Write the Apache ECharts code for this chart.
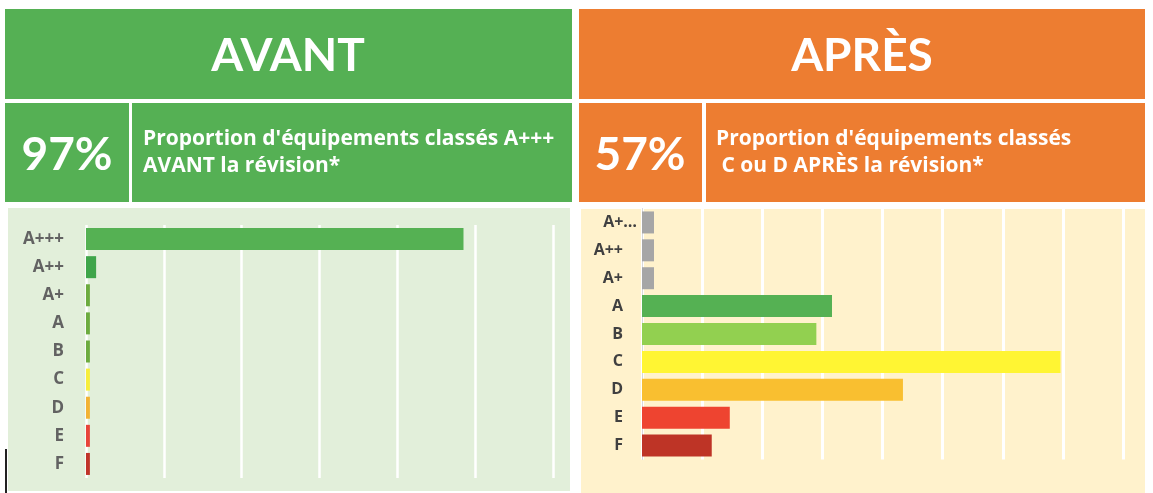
<!DOCTYPE html>
<html>
<head>
<meta charset="utf-8">
<script src="https://cdn.jsdelivr.net/npm/echarts@6/dist/echarts.min.js"></script>
<style>
  html, body { margin: 0; padding: 0; background: #fff; }
  #chart { width: 1153px; height: 493px; }
</style>
</head>
<body>
<div id="chart"></div>
<script>
// catégories et valeurs (en %)
const avantCats = ['A+++', 'A++', 'A+', 'A', 'B', 'C', 'D', 'E', 'F'];
const avantValues = [97, 2.6, 1, 1, 1, 1, 1, 1, 1];
const apresCats = ['A+…', 'A++', 'A+', 'A', 'B', 'C', 'D', 'E', 'F'];
const apresValues = [1, 1, 1, 15.8, 14.5, 34.8, 21.7, 7.3, 5.8];

// couleurs des barres
const avantColors = ['#55b153', '#3fa54a', '#6cab3e', '#6cab3e', '#6cab3e', '#f7ee3a', '#f2b233', '#e8443a', '#c0342a'];
const apresColors = ['#a6a6a6', '#a6a6a6', '#a6a6a6', '#55b153', '#92d050', '#fff533', '#f9bf30', '#ee4430', '#be3426'];

const GREEN = '#55b054';
const ORANGE = '#ed7d31';
const TITLE_FONT = 'Lato';
const FONT = 'Open Sans';

const chart = echarts.init(document.getElementById('chart'), null, { renderer: 'canvas' });

function toData(values, colors) {
  return values.map((v, i) => ({ value: v, itemStyle: { color: colors[i] } }));
}

function box(x, y, w, h, color) {
  return { type: 'rect', z: -10, shape: { x, y, width: w, height: h }, style: { fill: color } };
}

function text(x, y, str, size, align, family) {
  return {
    type: 'text', z: 10, x, y,
    style: {
      text: str, fill: '#fff', fontFamily: family || FONT, fontWeight: 'bold', fontSize: size,
      align: align || 'left', verticalAlign: 'middle',
    },
  };
}

const labelStyle = { fontFamily: FONT, fontWeight: 'bold', fontSize: 16 };

const option = {
  backgroundColor: '#fff',
  animation: false,
  graphic: [
    // en-têtes
    box(5, 9, 567, 90, GREEN),
    box(579, 9, 566, 90, ORANGE),
    box(5, 103, 124, 99, GREEN),
    box(132, 103, 440, 99, GREEN),
    box(579, 103, 123, 99, ORANGE),
    box(706, 103, 439, 99, ORANGE),
    // fonds des graphiques
    box(8, 208, 562, 283, '#e2efda'),
    box(581, 209, 564, 284, '#fff2cc'),
    box(5, 449, 2, 44, '#222'),
    text(288, 56, 'AVANT', 46, 'center', TITLE_FONT),
    text(862, 56, 'APRÈS', 46, 'center', TITLE_FONT),
    text(67, 155, '97%', 46, 'center', TITLE_FONT),
    text(640, 155, '57%', 46, 'center', TITLE_FONT),
    text(143, 139, "Proportion d'équipements classés A+++", 21),
    text(143, 166, 'AVANT la révision*', 21),
    text(716, 139, "Proportion d'équipements classés", 21),
    text(716, 166, ' C ou D APRÈS la révision*', 21),
  ],
  grid: [
    { left: 86, top: 225, width: 467, height: 253 },
    { left: 642, top: 208.5, width: 481, height: 251 },
  ],
  xAxis: [
    {
      gridIndex: 0, type: 'value', min: 0, max: 120, interval: 20,
      axisLabel: { show: false }, axisLine: { show: false }, axisTick: { show: false },
      splitLine: { lineStyle: { color: '#fff', width: 2.5 } },
    },
    {
      gridIndex: 1, type: 'value', min: 0, max: 40, interval: 5,
      axisLabel: { show: false }, axisLine: { show: false }, axisTick: { show: false },
      splitLine: { lineStyle: { color: '#fff', width: 3 } },
    },
  ],
  yAxis: [
    {
      gridIndex: 0, type: 'category', inverse: true, data: avantCats,
      axisLine: { show: false }, axisTick: { show: false },
      axisLabel: { ...labelStyle, color: '#626262', fontSize: 17, margin: 22 },
    },
    {
      gridIndex: 1, type: 'category', inverse: true, data: apresCats,
      axisLine: { show: true, lineStyle: { color: '#d9d9d9', width: 1 } },
      axisTick: { show: false },
      axisLabel: {
        ...labelStyle, color: '#404040', margin: 5,
        // le premier libellé (tronqué) dépasse à droite des autres
        formatter: (v, i) => (i === 0 ? '{t|' + v + '}' : '{n|' + v + '}'),
        rich: {
          t: { ...labelStyle, color: '#404040' },
          n: { ...labelStyle, color: '#404040', padding: [0, 14, 0, 0] },
        },
      },
    },
  ],
  series: [
    {
      type: 'bar', xAxisIndex: 0, yAxisIndex: 0, barWidth: 22,
      data: toData(avantValues, avantColors),
    },
    {
      type: 'bar', xAxisIndex: 1, yAxisIndex: 1, barWidth: 22,
      data: toData(apresValues, apresColors),
    },
  ],
};

chart.setOption(option);
</script>
</body>
</html>
